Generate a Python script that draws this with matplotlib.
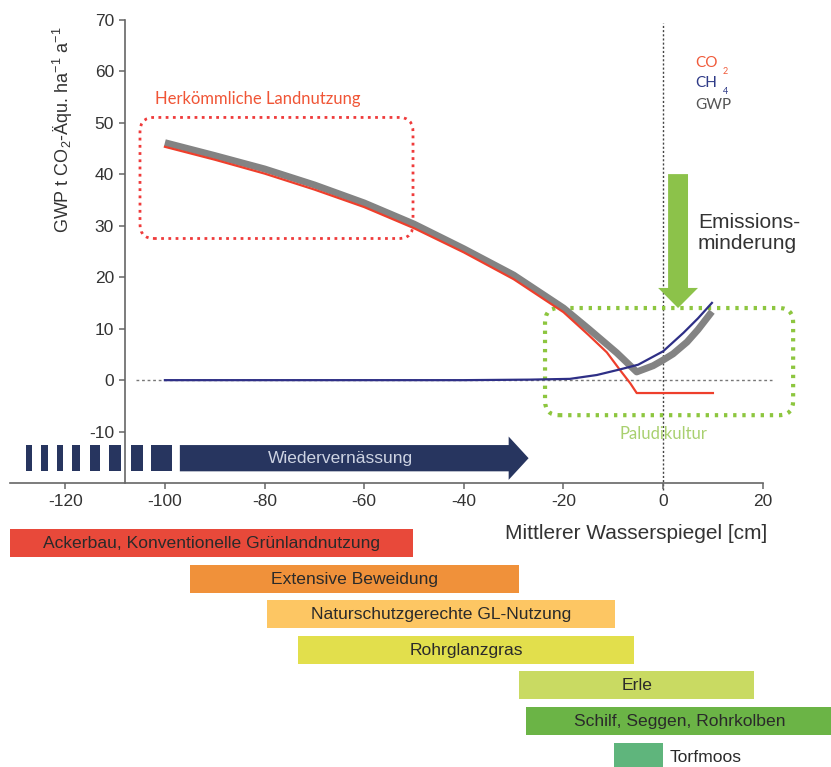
import matplotlib
matplotlib.use("Agg")
from matplotlib import pyplot as plt
from matplotlib.patches import FancyBboxPatch, Rectangle

plt.rcParams['font.family'] = ['Liberation Sans', 'DejaVu Sans']
plt.rcParams['axes.unicode_minus'] = False
plt.rcParams['mathtext.fontset'] = 'custom'
plt.rcParams['mathtext.rm'] = 'Liberation Sans'
plt.rcParams['mathtext.it'] = 'Liberation Sans'

# curves (water level cm -> t CO2-eq/ha/a)
co2_x = [-100, -90, -80, -70, -60, -50, -40, -30, -25, -20, -15, -11.3, -8.6, -6.6, -5.3, 10]
co2_y = [45.3, 42.8, 40.1, 37.0, 33.6, 29.5, 24.8, 19.6, 16.4, 13.2, 8.8, 5.4, 1.9, -0.6, -2.5, -2.5]

ch4_x = [-100, -40, -26.7, -18.7, -13.3, -8.6, -5, 0, 4.1, 7, 9.8]
ch4_y = [0.0, 0.0, 0.1, 0.25, 1.0, 2.1, 3.0, 5.6, 9.2, 12.0, 15.0]

gwp_x = [-100, -90, -80, -70, -60, -50, -40, -30, -25, -20, -15, -9.3, -5.3, -2, 0, 2, 4.8, 7, 9.8]
gwp_y = [46.1, 43.6, 41.0, 37.9, 34.4, 30.3, 25.5, 20.4, 17.2, 14.0, 10.0, 5.3, 1.6, 2.8, 3.9, 5.1, 7.4, 9.8, 13.3]

# land use ranges (water level cm)
uses = ["Ackerbau, Konventionelle Grünlandnutzung", "Extensive Beweidung",
        "Naturschutzgerechte GL-Nutzung", "Rohrglanzgras", "Erle",
        "Schilf, Seggen, Rohrkolben", "Torfmoos"]
use_start = [-131, -95, -79.5, -73.3, -28.9, -27.5, -9.8]
use_end = [-50.2, -28.9, -9.6, -5.8, 18.3, 34.3, 0]
use_colors = ['#e8493a', '#f0913a', '#fdc663', '#e2df4c', '#c9da62', '#6bb446', '#5fb57c']

# rewetting arrow dashes
dash_start = [-127.9, -124.8, -121.6, -118.7, -115.1, -111.2, -106.8, -102.7]
dash_end = [-126.6, -123.4, -120.4, -117.1, -113.1, -108.9, -104.4, -98.5]

xticks = [-120, -100, -80, -60, -40, -20, 0, 20]
yticks = [-10, 0, 10, 20, 30, 40, 50, 60, 70]

fig = plt.figure(figsize=(8.31, 7.67), dpi=100)
ax = fig.add_axes([0, 0, 1, 1])
ax.set_xlim(-133.1, 33.7)
ax.set_ylim(-75.1, 73.8)

for s in ['top', 'right']:
    ax.spines[s].set_visible(False)
ax.spines['left'].set_position(('data', -108))
ax.spines['left'].set_bounds(-20, 70)
ax.spines['bottom'].set_position(('data', -20))
ax.spines['bottom'].set_bounds(-131, 20)
for s in ['left', 'bottom']:
    ax.spines[s].set_color('#666666')
    ax.spines[s].set_linewidth(1.2)
ax.set_xticks(xticks)
ax.set_yticks(yticks)
ax.tick_params(direction='out', length=4.5, width=1.1, color='#666666',
               labelcolor='#333333', labelsize=12.5, pad=3.5)

# reference lines
ax.plot([-105.8, 21.9], [0, 0], color='#777777', lw=1, ls=(0, (2, 2)), zorder=1)
ax.plot([0, 0], [-21.4, 69.3], color='#444444', lw=1, ls=(0, (1.5, 1.5)), zorder=1)

# boxes
ax.add_patch(FancyBboxPatch((-105, 27.5), 54.8, 23.5, boxstyle="round,pad=0,rounding_size=2.8",
                            fill=False, ec='#ef3b3b', lw=2, ls=(0, (1, 1.6)), zorder=2))
ax.add_patch(FancyBboxPatch((-23.7, -6.8), 49.8, 20.8, boxstyle="round,pad=0,rounding_size=2.8",
                            fill=False, ec='#8dc63f', lw=3, ls=(0, (0.8, 1.4)), zorder=2))

# curves
ax.plot(gwp_x, gwp_y, color='#838383', lw=5, solid_capstyle='butt', solid_joinstyle='round', zorder=3)
ax.plot(co2_x, co2_y, color='#ee3f2c', lw=1.6, zorder=4)
ax.plot(ch4_x, ch4_y, color='#2e2f86', lw=1.6, zorder=4)

# green arrow
ax.arrow(3, 40, 0, -26, width=4, head_width=8, head_length=3.9, length_includes_head=True,
         color='#8cc24a', lw=0, zorder=5)

# rewetting arrow
for a, b in zip(dash_start, dash_end):
    ax.add_patch(Rectangle((a, -17.7), b - a, 5.1, color='#27355f', lw=0, zorder=5))
ax.arrow(-97, -15.15, 70, 0, width=5.1, head_width=8.4, head_length=4, length_includes_head=True,
         color='#27355f', lw=0, zorder=5)
ax.text(-64.7, -15.2, "Wiedervernässung", color='#cdd3e2', fontsize=12.5, ha='center', va='center', zorder=6)

# texts
ax.text(-120.5, 48.7, r"GWP t CO$_2$-Äqu. ha$^{-1}$ a$^{-1}$", rotation=90, fontsize=13,
        color='#333333', ha='center', va='center')
ax.text(-31.7, -29.8, "Mittlerer Wasserspiegel [cm]", fontsize=15, color='#333333', ha='left', va='center')
ax.text(7.0, 28.6, "Emissions-\nminderung", fontsize=15, color='#333333', ha='left', va='center',
        linespacing=1.15)
ax.text(-102, 54.6, "Herkömmliche Landnutzung", fontsize=12, color='#f05536', family='Lato',
        ha='left', va='center')
ax.text(0, -10.5, "Paludikultur", fontsize=12, color='#a9d06f', family='Lato', ha='center', va='center')

ax.text(6.4, 61.6, "CO", fontsize=11, color='#f05a3a', family='Lato', ha='left', va='center')
ax.text(12.0, 60.0, "2", fontsize=6.5, color='#f05a3a', family='Lato', ha='left', va='center')
ax.text(6.4, 57.6, "CH", fontsize=11, color='#2e3a87', family='Lato', ha='left', va='center')
ax.text(12.0, 56.0, "4", fontsize=6.5, color='#2e3a87', family='Lato', ha='left', va='center')
ax.text(6.4, 53.4, "GWP", fontsize=11, color='#555555', family='Lato', ha='left', va='center')

# land use bars
for i, (name, a, b, c) in enumerate(zip(uses, use_start, use_end, use_colors)):
    yc = -31.65 - 6.9 * i
    ax.barh(yc, b - a, left=a, height=5.4, color=c, zorder=2)
    if name == "Torfmoos":
        ax.text(b + 1.4, yc - 0.2, name, fontsize=12.6, color='#2a2a2a', ha='left', va='center')
    else:
        ax.text((a + b) / 2, yc - 0.1, name, fontsize=12.6, color='#2a2a2a', ha='center', va='center')

plt.savefig("out.png", dpi=100)
